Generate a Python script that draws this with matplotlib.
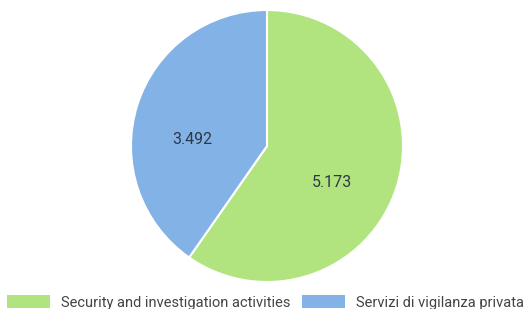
import matplotlib.pyplot as plt
from matplotlib.patches import Patch

plt.rcParams['font.family'] = ['Roboto', 'DejaVu Sans']

labels = ['Security and investigation activities', 'Servizi di vigilanza privata']
values = [5.173, 3.492]
value_labels = ['5.173', '3.492']
colors = ['#b1e47f', '#83b2e6']
# where each value label sits, in units of the pie radius
label_pos = [(0.48, -0.27), (-0.55, 0.045)]


def main():
    fig = plt.figure(figsize=(5.25, 3.09), dpi=100)
    # pie area: centre ~ (267,146) px, radius ~136 px
    cx, cy, r = 267, 146, 136
    ax = fig.add_axes([(cx - r) / 525, (309 - cy - r) / 309, 2 * r / 525, 2 * r / 309])
    ax.pie(values, colors=colors, startangle=90, counterclock=False,
           wedgeprops=dict(edgecolor='white', linewidth=1.5))
    ax.set_xlim(-1, 1)
    ax.set_ylim(-1, 1)
    ax.set_aspect('equal')

    for (x, y), txt in zip(label_pos, value_labels):
        ax.text(x, y, txt, ha='center', va='center', fontsize=11.5, color='#2f3846')

    handles = [Patch(facecolor=c, edgecolor='none') for c in colors]
    fig.legend(handles, labels, loc='lower center', bbox_to_anchor=(0.505, -0.045), ncol=2,
               frameon=False, fontsize=10.5, handlelength=3.0, handleheight=1.0,
               handletextpad=0.7, columnspacing=0.8, labelcolor='#444444')
    fig.savefig('out.png', dpi=100)


if __name__ == "__main__":
    main()
